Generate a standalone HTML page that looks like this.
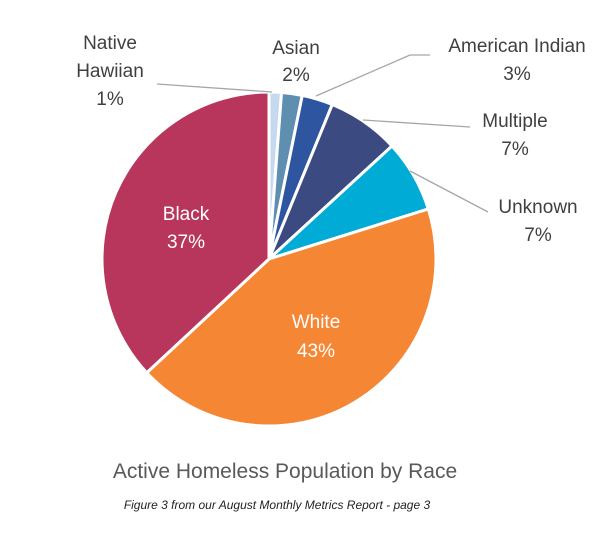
<!DOCTYPE html>
<html><head><meta charset="utf-8"><style>
body{margin:0;background:#fff;}
svg text{font-family:"Liberation Sans",sans-serif;}
</style></head><body>
<svg width="610" height="538" viewBox="0 0 610 538" xmlns="http://www.w3.org/2000/svg">
<g id="slices"></g>
<g id="leaders" stroke="#a6a6a6" stroke-width="1.3" fill="none">
<polyline points="157,84 272,92"/>
<polyline points="316,96 410,55 430,55"/>
<polyline points="363,120 470,127"/>
<polyline points="410,171 488,212"/>
</g>
<g font-size="19" fill="#404040" text-anchor="middle">
<text x="110" y="49">Native</text>
<text x="110" y="77">Hawiian</text>
<text x="110" y="105">1%</text>
<text x="296" y="54">Asian</text>
<text x="296" y="81">2%</text>
<text x="517" y="52">American Indian</text>
<text x="517" y="80">3%</text>
<text x="515" y="127">Multiple</text>
<text x="515" y="155">7%</text>
<text x="538" y="213">Unknown</text>
<text x="538" y="241">7%</text>
<text x="186" y="220" fill="#fff">Black</text>
<text x="186" y="248" fill="#fff">37%</text>
<text x="316" y="328" fill="#fff">White</text>
<text x="316" y="357" fill="#fff">43%</text>
</g>
<text x="285" y="478" font-size="21" fill="#595959" text-anchor="middle">Active Homeless Population by Race</text>
<text x="277" y="509" font-size="12" font-style="italic" fill="#222" text-anchor="middle">Figure 3 from our August Monthly Metrics Report - page 3</text>
</svg>
<script>
const categories=["Native Hawaiian","Asian","American Indian","Multiple","Unknown","White","Black"];
const values=[1.2,2,3,7,7,43,37];
const colors=["#c6d9ef","#5f8fb0","#2d55a0","#3b4a80","#00acd6","#f58634","#b8365b"];
const cx=269,cy=259,r=167;
const g=document.getElementById('slices');
const total=values.reduce((a,b)=>a+b,0);
let acc=0;
function pt(f){const a=f*2*Math.PI;return [cx+r*Math.sin(a),cy-r*Math.cos(a)];}
values.forEach((v,i)=>{
 const s=acc/total,e=(acc+v)/total;acc+=v;
 const [x1,y1]=pt(s),[x2,y2]=pt(e);
 const p=document.createElementNS('http://www.w3.org/2000/svg','path');
 p.setAttribute('d',`M${cx},${cy}L${x1},${y1}A${r},${r} 0 ${e-s>0.5?1:0} 1 ${x2},${y2}Z`);
 p.setAttribute('fill',colors[i]);
 p.setAttribute('stroke','#fff');
 p.setAttribute('stroke-width','3');
 
 
 g.appendChild(p);
});
</script>
</body></html>
